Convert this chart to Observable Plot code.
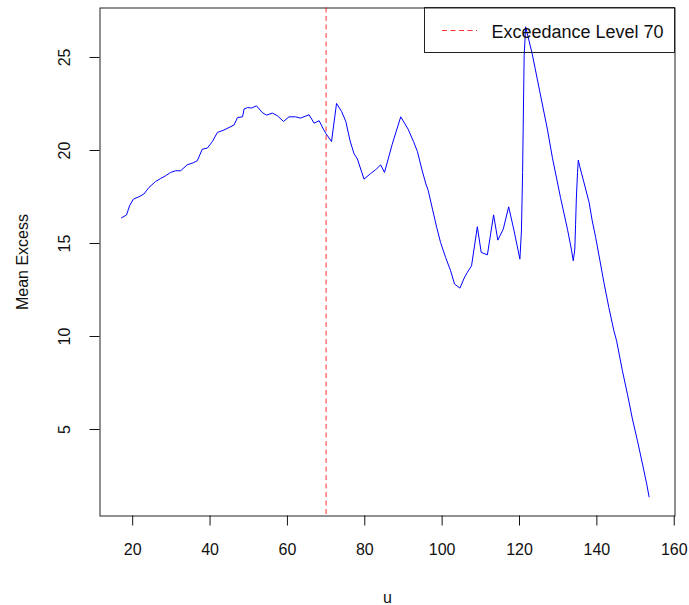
<!DOCTYPE html>
<html><head><meta charset="utf-8">
<script src="https://cdn.jsdelivr.net/npm/d3@7"></script>
<script src="https://cdn.jsdelivr.net/npm/@observablehq/plot@0.6"></script>
<style>
body{margin:0;background:#fff;}
#wrap{position:relative;width:689px;height:605px;}
#legend{position:absolute;left:423.5px;top:7px;width:251.5px;height:46px;border:1px solid #222;box-sizing:border-box;font:18px "Liberation Sans",Arial,sans-serif;color:#111;}
#legend svg{position:absolute;left:0;top:0;}
#legend span{position:absolute;left:67px;top:14px;line-height:20px;white-space:nowrap;}
</style></head><body>
<div id="wrap"></div>
<script>
const u = [17.1, 18.4, 19.2, 20.2, 21.6, 22.9, 24.2, 25.9, 27.2, 28.5, 29.8, 31.1, 32.4, 34.1, 35.8, 36.7, 38.0, 39.3, 40.6, 41.9, 43.6, 46.2, 47.1, 48.4, 48.8, 49.7, 50.7, 52.0, 53.5, 54.6, 56.1, 57.4, 59.0, 60.4, 62.1, 63.4, 65.6, 66.9, 68.2, 69.3, 70.0, 71.4, 72.7, 74.0, 75.1, 76.2, 77.2, 78.1, 79.8, 81.5, 82.8, 84.1, 85.1, 87.1, 89.3, 91.2, 92.6, 93.6, 94.8, 95.8, 96.4, 97.5, 98.6, 99.6, 100.9, 102.2, 103.2, 104.6, 105.7, 106.5, 107.6, 109.1, 110.1, 111.7, 113.3, 114.4, 115.8, 117.2, 118.6, 120.1, 120.5, 120.8, 121.0, 121.2, 121.6, 122.0, 123.3, 127.2, 128.5, 130.6, 132.4, 133.4, 133.9, 134.3, 134.5, 134.7, 135.0, 135.2, 135.6, 136.5, 138.0, 138.8, 139.7, 140.8, 141.9, 143.1, 144.4, 145.1, 146.6, 147.9, 149.2, 150.5, 151.8, 152.9, 153.5];
const meanExcess = [16.38, 16.53, 17.03, 17.39, 17.51, 17.66, 18.01, 18.33, 18.49, 18.64, 18.82, 18.91, 18.91, 19.23, 19.35, 19.45, 20.07, 20.13, 20.48, 20.97, 21.10, 21.37, 21.77, 21.81, 22.23, 22.31, 22.28, 22.40, 22.04, 21.90, 22.01, 21.87, 21.56, 21.81, 21.81, 21.74, 21.92, 21.47, 21.60, 21.15, 20.90, 20.48, 22.53, 22.10, 21.56, 20.52, 19.84, 19.54, 18.46, 18.76, 18.96, 19.23, 18.82, 20.34, 21.81, 21.15, 20.48, 19.95, 18.95, 18.20, 17.85, 16.85, 15.86, 15.05, 14.25, 13.53, 12.82, 12.60, 13.14, 13.44, 13.80, 15.90, 14.52, 14.39, 16.54, 15.18, 15.77, 16.97, 15.68, 14.16, 15.68, 18.82, 21.96, 25.09, 26.65, 26.30, 25.18, 21.15, 19.62, 17.47, 15.77, 14.70, 14.07, 14.70, 16.04, 17.44, 18.82, 19.48, 19.12, 18.41, 17.20, 16.22, 15.32, 14.07, 12.82, 11.56, 10.31, 9.77, 8.16, 6.90, 5.56, 4.39, 3.14, 2.06, 1.38];
const threshold = [70];
const xTicks = [20, 40, 60, 80, 100, 120, 140, 160];
const yTicks = [5, 10, 15, 20, 25];
const xLabel = "u";
const yLabel = "Mean Excess";
const legendLabel = "Exceedance Level 70";

const data = u.map((x, i) => ({u: x, me: meanExcess[i]}));

const chart = Plot.plot({
  width: 689, height: 605,
  marginLeft: 99.5, marginRight: 14.5, marginTop: 7.5, marginBottom: 89.5,
  style: {fontFamily: '"Liberation Sans", Arial, sans-serif', fontSize: "16px", color: "#111", background: "#fff", overflow: "visible"},
  x: {domain: [11.55, 160.2]},
  y: {domain: [0.35, 27.66]},
  marks: [
    Plot.frame({stroke: "#222"}),
    Plot.axisX({ticks: xTicks, tickSize: 10, tickPadding: 18, fontSize: 16, label: xLabel, labelAnchor: "center", labelArrow: "none", labelOffset: 87}),
    Plot.axisY({ticks: yTicks, tickSize: 10, fill: "none", label: null}),
    Plot.axisY({ticks: yTicks, tickSize: 0, tickPadding: 35, rotate: -90, textAnchor: "middle", fontSize: 16, label: yLabel, labelAnchor: "center", labelArrow: "none", labelOffset: 83}),
    Plot.ruleX(threshold, {stroke: "#ff0000", strokeDasharray: "5,3.5", strokeOpacity: 0.8}),
    Plot.line(data, {x: "u", y: "me", stroke: "#0000ff", strokeWidth: 1})
  ]
});
const wrap = document.getElementById("wrap");
wrap.appendChild(chart);
const leg = document.createElement("div");
leg.id = "legend";
leg.innerHTML = '<svg width="250" height="44"><line x1="17" x2="52" y1="22.5" y2="22.5" stroke="#ff0000" stroke-opacity="0.8" stroke-dasharray="5,3.5"/></svg><span></span>';
leg.querySelector("span").textContent = legendLabel;
wrap.appendChild(leg);
</script>
</body></html>
